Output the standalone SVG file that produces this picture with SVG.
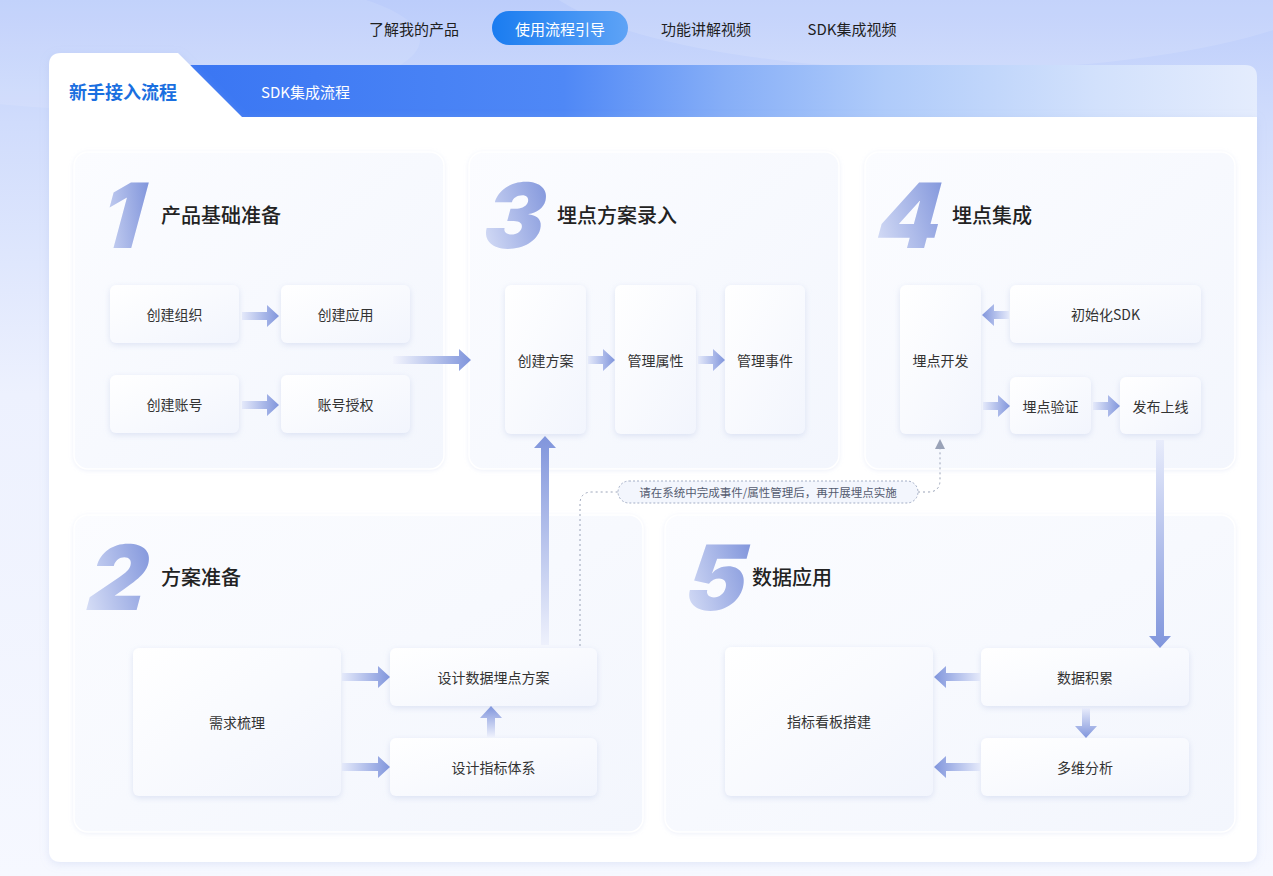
<svg xmlns="http://www.w3.org/2000/svg" width="1273" height="876" viewBox="0 0 1273 876">
<defs>
<linearGradient id="bg" x1="0" y1="0" x2="0" y2="1">
<stop offset="0" stop-color="#bccdfb"/>
<stop offset="0.14" stop-color="#d0dcfc"/>
<stop offset="0.45" stop-color="#edf1fe"/>
<stop offset="1" stop-color="#f6f8ff"/>
</linearGradient>
<linearGradient id="bar" x1="0" y1="0" x2="1" y2="0">
<stop offset="0" stop-color="#3a76f3"/>
<stop offset="0.35" stop-color="#4f88f6"/>
<stop offset="0.5" stop-color="#86aef7"/>
<stop offset="0.65" stop-color="#afcbfa"/>
<stop offset="0.85" stop-color="#d2e1fc"/>
<stop offset="1" stop-color="#e4ecfd"/>
</linearGradient>
<linearGradient id="pill" x1="0" y1="0" x2="1" y2="0">
<stop offset="0" stop-color="#1a7cf0"/>
<stop offset="1" stop-color="#5ea3f6"/>
</linearGradient>
<linearGradient id="sec" x1="0" y1="0" x2="1" y2="1">
<stop offset="0" stop-color="#fbfcff"/>
<stop offset="1" stop-color="#f3f6fd"/>
</linearGradient>
<linearGradient id="node" x1="0" y1="0" x2="1" y2="1">
<stop offset="0" stop-color="#ffffff"/>
<stop offset="1" stop-color="#f2f5fd"/>
</linearGradient>
<linearGradient id="num" x1="1" y1="0" x2="0" y2="1">
<stop offset="0" stop-color="#6f86d6"/>
<stop offset="1" stop-color="#e6ebfb"/>
</linearGradient>
<linearGradient id="aR" x1="0" y1="0" x2="1" y2="0">
<stop offset="0" stop-color="#e4e9fa"/>
<stop offset="1" stop-color="#8095dc"/>
</linearGradient>
<linearGradient id="aR2" x1="0" y1="0" x2="1" y2="0">
<stop offset="0" stop-color="#f3f5fd"/>
<stop offset="1" stop-color="#8095dc"/>
</linearGradient>
<linearGradient id="aL" x1="1" y1="0" x2="0" y2="0">
<stop offset="0" stop-color="#e4e9fa"/>
<stop offset="1" stop-color="#8095dc"/>
</linearGradient>
<linearGradient id="aU" x1="0" y1="1" x2="0" y2="0">
<stop offset="0" stop-color="#eef1fc"/>
<stop offset="1" stop-color="#8095dc"/>
</linearGradient>
<linearGradient id="aD" x1="0" y1="0" x2="0" y2="1">
<stop offset="0" stop-color="#e8ecfb"/>
<stop offset="1" stop-color="#8095dc"/>
</linearGradient>
<filter id="sh" x="-20%" y="-20%" width="140%" height="150%">
<feDropShadow dx="0" dy="2" stdDeviation="3" flood-color="#aab8e0" flood-opacity="0.35"/>
</filter>
<filter id="shs" x="-10%" y="-10%" width="120%" height="120%">
<feDropShadow dx="0" dy="1" stdDeviation="2" flood-color="#c5cfee" flood-opacity="0.3"/>
</filter>
<filter id="shc" x="-5%" y="-5%" width="110%" height="110%">
<feDropShadow dx="0" dy="2" stdDeviation="4" flood-color="#9fb0e0" flood-opacity="0.25"/>
</filter>
<marker id="gh" viewBox="0 0 10 10" refX="5" refY="5" markerWidth="10" markerHeight="10" orient="auto" markerUnits="userSpaceOnUse">
<path d="M0,0 L10,5 L0,10 Z" fill="#9aa3b8"/>
</marker>
</defs>
<style>
.t{font-family:"Noto Sans CJK SC","Noto Sans",sans-serif;}
.nav{font-size:15px;fill:#1f1f1f;text-anchor:middle;dominant-baseline:central;}
.sec{fill:url(#sec);stroke:#ffffff;stroke-width:1.5;}
.node rect{fill:url(#node);filter:url(#sh);}
.node text{font-family:"Noto Sans CJK SC","Noto Sans",sans-serif;font-size:14px;fill:#333;text-anchor:middle;dominant-baseline:central;}
.title{font-family:"Noto Sans CJK SC",sans-serif;font-size:20px;font-weight:500;fill:#222;dominant-baseline:central;}
.num{font-family:Inter,"Liberation Sans",Arial,sans-serif;font-size:90px;font-weight:900;fill:url(#num);text-anchor:middle;}
.dash{fill:none;stroke:#9aa3b8;stroke-width:1;stroke-dasharray:2 3;}
</style>

<rect width="1273" height="876" fill="url(#bg)"/>
<ellipse cx="950" cy="-40" rx="420" ry="110" fill="#ffffff" opacity="0.12"/>
<ellipse cx="120" cy="40" rx="300" ry="70" fill="#ffffff" opacity="0.1"/>

<g id="nav">
<text class="t nav" x="414" y="28">了解我的产品</text>
<rect x="492" y="11" width="136" height="34" rx="17" fill="url(#pill)"/>
<text class="t nav" x="560" y="28" style="fill:#fff">使用流程引导</text>
<text class="t nav" x="706" y="28">功能讲解视频</text>
<text class="t nav" x="852" y="28">SDK集成视频</text>
</g>

<g id="card">
<path d="M190,65 H1245 Q1257,65 1257,77 V130 H240 Z" fill="url(#bar)"/>
<path d="M49,65 Q49,53 61,53 H178 L242,117 H1257 V850 Q1257,862 1245,862 H61 Q49,862 49,850 Z" fill="#ffffff" filter="url(#shc)"/>
<text class="t" x="69" y="91" font-size="18" font-weight="700" fill="#1a6fe0" dominant-baseline="central">新手接入流程</text>
<text class="t" x="261" y="91" font-size="15" fill="#ffffff" dominant-baseline="central">SDK集成流程</text>
</g>

<g id="sec1">
<rect class="sec" x="74" y="152" width="370" height="317" rx="14" filter="url(#shs)"/>
<text class="num" transform="translate(115,248) skewX(-15)" x="0" y="0">1</text>
<text class="title" x="161" y="214">产品基础准备</text>
</g>
<g id="sec3">
<rect class="sec" x="469" y="152" width="370" height="317" rx="14" filter="url(#shs)"/>
<text class="num" transform="translate(508,248) skewX(-15)" x="0" y="0">3</text>
<text class="title" x="557" y="214">埋点方案录入</text>
</g>
<g id="sec4">
<rect class="sec" x="865" y="152" width="370" height="317" rx="14" filter="url(#shs)"/>
<text class="num" transform="translate(903,248) skewX(-15)" x="0" y="0">4</text>
<text class="title" x="952" y="214">埋点集成</text>
</g>
<g id="sec2">
<rect class="sec" x="74" y="515" width="569" height="317" rx="14" filter="url(#shs)"/>
<text class="num" transform="translate(111,610) skewX(-15)" x="0" y="0">2</text>
<text class="title" x="161" y="576">方案准备</text>
</g>
<g id="sec5">
<rect class="sec" x="665" y="515" width="570" height="317" rx="14" filter="url(#shs)"/>
<text class="num" transform="translate(710,610) skewX(-15)" x="0" y="0">5</text>
<text class="title" x="752" y="576">数据应用</text>
</g>

<g id="n-zuzhi" class="node"><rect x="110" y="285" width="129" height="58" rx="6"/><text x="174.5" y="314">创建组织</text></g>
<g id="n-yingyong" class="node"><rect x="281" y="285" width="129" height="58" rx="6"/><text x="345.5" y="314">创建应用</text></g>
<g id="n-zhanghao" class="node"><rect x="110" y="375" width="129" height="58" rx="6"/><text x="174.5" y="404">创建账号</text></g>
<g id="n-shouquan" class="node"><rect x="281" y="375" width="129" height="58" rx="6"/><text x="345.5" y="404">账号授权</text></g>

<g id="n-fangan" class="node"><rect x="505" y="285" width="81" height="149" rx="6"/><text x="545.5" y="360">创建方案</text></g>
<g id="n-shuxing" class="node"><rect x="615" y="285" width="81" height="149" rx="6"/><text x="655.5" y="360">管理属性</text></g>
<g id="n-shijian" class="node"><rect x="725" y="285" width="80" height="149" rx="6"/><text x="765" y="360">管理事件</text></g>

<g id="n-kaifa" class="node"><rect x="900" y="285" width="81" height="149" rx="6"/><text x="940.5" y="360">埋点开发</text></g>
<g id="n-sdk" class="node"><rect x="1010" y="285" width="191" height="58" rx="6"/><text x="1105.5" y="314">初始化SDK</text></g>
<g id="n-yanzheng" class="node"><rect x="1010" y="377" width="81" height="57" rx="6"/><text x="1050.5" y="405.5">埋点验证</text></g>
<g id="n-shangxian" class="node"><rect x="1120" y="377" width="81" height="57" rx="6"/><text x="1160.5" y="405.5">发布上线</text></g>

<g id="n-xuqiu" class="node"><rect x="133" y="648" width="208" height="148" rx="6"/><text x="237" y="722">需求梳理</text></g>
<g id="n-sheji" class="node"><rect x="390" y="648" width="207" height="58" rx="6"/><text x="493.5" y="677">设计数据埋点方案</text></g>
<g id="n-zhibiao" class="node"><rect x="390" y="738" width="207" height="58" rx="6"/><text x="493.5" y="767">设计指标体系</text></g>

<g id="n-kanban" class="node"><rect x="725" y="647" width="208" height="149" rx="6"/><text x="829" y="721">指标看板搭建</text></g>
<g id="n-jilei" class="node"><rect x="981" y="648" width="208" height="58" rx="6"/><text x="1085" y="677">数据积累</text></g>
<g id="n-fenxi" class="node"><rect x="981" y="738" width="208" height="58" rx="6"/><text x="1085" y="767">多维分析</text></g>

<g id="connectors">
<path d="M242,312 H267 V305 L279,316 L267,327 V320 H242 Z" fill="url(#aR)"/>
<path d="M242,401 H267 V394 L279,405 L267,416 V409 H242 Z" fill="url(#aR)"/>
<path d="M393,356 H459 V349 L471,360 L459,371 V364 H393 Z" fill="url(#aR2)"/>
<path d="M588,356 H603 V349 L615,360 L603,371 V364 H588 Z" fill="url(#aR)"/>
<path d="M698,356 H713 V349 L725,360 L713,371 V364 H698 Z" fill="url(#aR)"/>
<path d="M983,402 H998 V395 L1010,406 L998,417 V410 H983 Z" fill="url(#aR)"/>
<path d="M1093,402 H1108 V395 L1120,406 L1108,417 V410 H1093 Z" fill="url(#aR)"/>
<path d="M342,673 H378 V666 L390,677 L378,688 V681 H342 Z" fill="url(#aR)"/>
<path d="M342,763 H378 V756 L390,767 L378,778 V771 H342 Z" fill="url(#aR)"/>
<path d="M1009,311 H994 V304 L982,315 L994,326 V319 H1009 Z" fill="url(#aL)"/>
<path d="M980,673 H946 V666 L934,677 L946,688 V681 H980 Z" fill="url(#aL)"/>
<path d="M980,763 H946 V756 L934,767 L946,778 V771 H980 Z" fill="url(#aL)"/>
<path d="M487,737 V718 H480 L491,706 L502,718 H495 V737 Z" fill="url(#aU)"/>
<path d="M541,645 V448 H534 L545,436 L556,448 H549 V645 Z" fill="url(#aU)"/>
<path d="M1082,708 V726 H1075 L1086,738 L1097,726 H1090 V708 Z" fill="url(#aD)"/>
<path d="M1156,440 V636 H1149 L1160,648 L1171,636 H1164 V440 Z" fill="url(#aD)"/>
<path class="dash" d="M580,646 V504 Q580,492 592,492 H618"/>
<path class="dash" d="M918,492 H928 Q940,492 940,480 V444" marker-end="url(#gh)"/>
</g>

<g id="note">
<rect x="618" y="481" width="300" height="22" rx="11" fill="#f3f6fd" stroke="#a3aec6" stroke-width="1" stroke-dasharray="2 2"/>
<text class="t" x="768" y="492" font-size="11.5" fill="#555c70" text-anchor="middle" dominant-baseline="central">请在系统中完成事件/属性管理后，再开展埋点实施</text>
</g>
</svg>
